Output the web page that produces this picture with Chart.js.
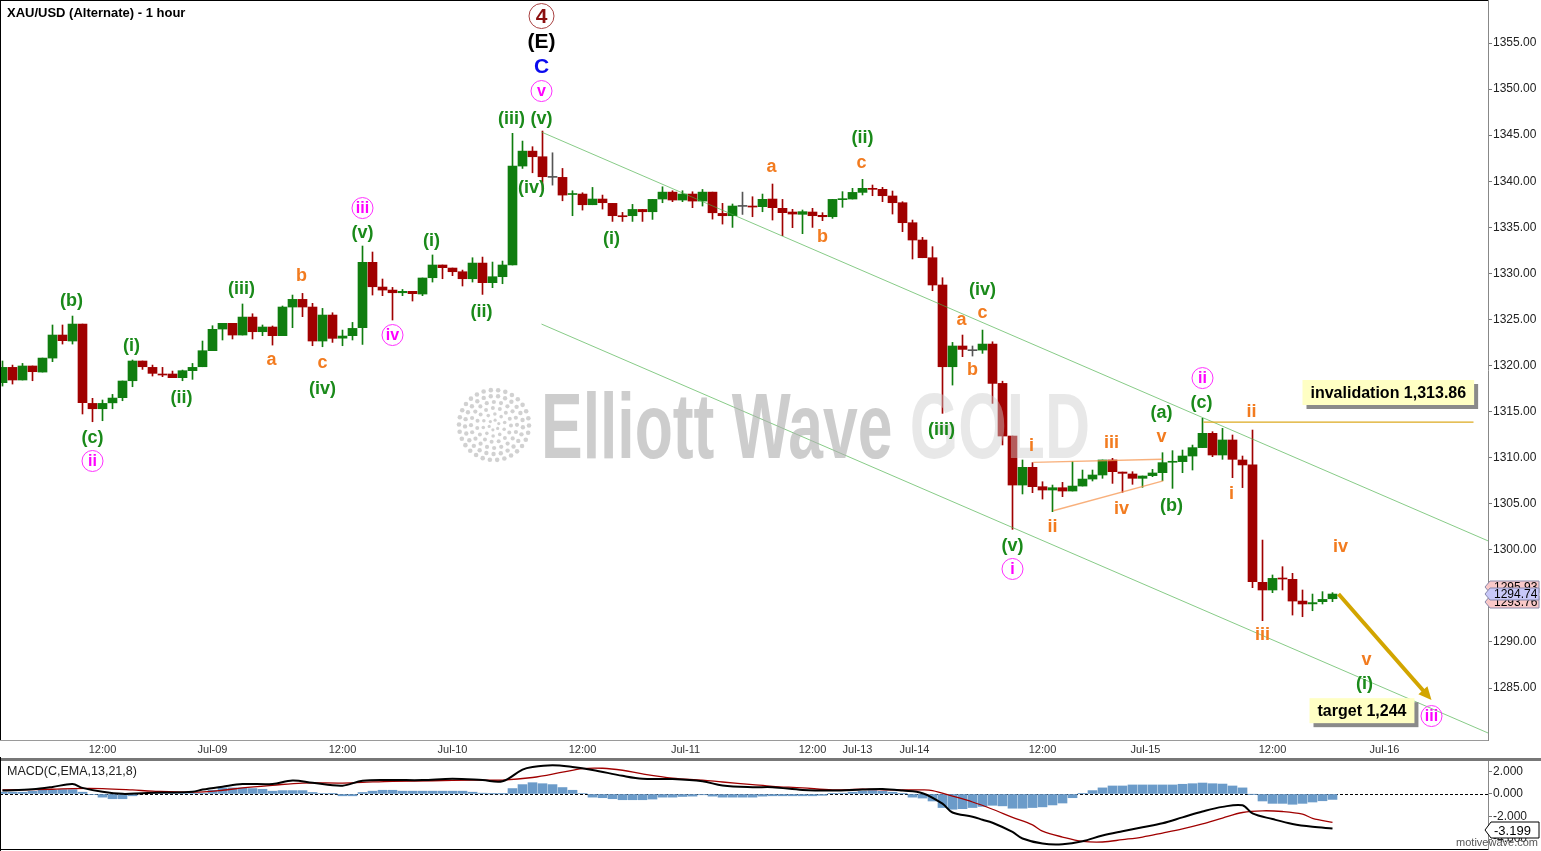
<!DOCTYPE html>
<html><head><meta charset="utf-8">
<script src="https://cdn.jsdelivr.net/npm/chart.js@4.4.1/dist/chart.umd.min.js"></script>
<style>
html,body{margin:0;padding:0;background:#fff;width:1541px;height:851px;overflow:hidden}
canvas{position:absolute;left:0}
#main{top:0}
#macd{top:757px}
</style></head><body>
<canvas id="main" width="1541" height="757"></canvas>
<canvas id="macd" width="1541" height="94"></canvas>
<script>
// ---------- DATA (hourly bars, index 0 = first visible bar) ----------
const opens = [1318.14,1319.80,1318.43,1319.95,1319.29,1320.81,1323.31,1322.66,1324.50,1315.89,
1315.31,1315.95,1316.51,1318.35,1320.49,1319.80,1319.08,1319.08,1318.68,1319.44,
1319.87,1321.61,1323.96,1324.58,1323.31,1325.26,1323.67,1324.18,1323.24,1326.35,
1327.18,1326.35,1322.66,1325.48,1322.97,1323.24,1324.11,1331.20,1328.52,1328.19,
1327.90,1328.05,1327.76,1329.53,1330.91,1330.58,1330.18,1329.42,1331.12,1328.99,
1329.64,1330.91,1341.65,1343.27,1342.66,1340.42,1340.42,1338.56,1338.61,1337.45,
1338.07,1337.60,1336.26,1336.26,1336.94,1336.69,1338.07,1338.82,1337.96,1338.61,
1337.85,1338.82,1336.51,1336.26,1337.27,1337.31,1337.24,1338.07,1337.06,1336.66,
1336.41,1336.66,1336.30,1336.15,1338.00,1338.07,1338.79,1339.23,1339.12,1338.40,
1337.67,1335.50,1333.62,1331.70,1328.74,1319.87,1322.12,1321.61,1321.68,1322.33,
1318.06,1312.35,1307.03,1308.95,1306.85,1306.49,1306.74,1306.38,1306.92,1307.68,
1308.12,1309.75,1308.44,1308.23,1307.76,1308.05,1308.37,1309.50,1309.57,1310.18,
1311.09,1312.64,1310.29,1311.92,1309.75,1309.21,1296.47,1295.64,1296.94,1296.80,
1294.44,1294.13,1294.37,1294.69];
const highs = [1320.49,1320.05,1320.23,1319.95,1320.81,1324.40,1324.40,1325.37,1324.50,1316.44,
1316.26,1316.87,1318.32,1320.60,1320.49,1320.05,1319.80,1319.40,1319.51,1320.23,
1322.66,1324.32,1324.58,1324.58,1326.68,1325.62,1324.40,1324.29,1326.46,1327.65,
1327.83,1326.75,1326.20,1325.73,1323.85,1324.68,1332.97,1332.32,1329.39,1328.48,
1328.26,1328.05,1329.50,1332.00,1330.91,1330.58,1330.36,1331.70,1331.77,1331.23,
1331.34,1345.20,1344.36,1343.75,1345.45,1343.09,1341.39,1338.97,1338.75,1339.33,
1338.50,1337.60,1336.62,1337.49,1336.94,1338.03,1339.40,1338.97,1338.97,1338.86,
1339.11,1338.82,1337.60,1337.53,1338.82,1338.32,1338.61,1339.70,1338.03,1336.95,
1336.88,1337.06,1336.59,1338.03,1338.87,1339.23,1340.21,1339.59,1339.34,1338.94,
1337.78,1335.79,1333.91,1332.90,1329.53,1322.51,1323.31,1322.12,1323.85,1322.58,
1318.30,1312.35,1309.75,1309.46,1307.39,1307.03,1307.32,1309.57,1308.66,1308.66,
1309.75,1309.93,1308.44,1308.48,1308.01,1308.73,1310.54,1310.76,1310.83,1311.37,
1314.27,1312.82,1313.18,1312.46,1310.18,1313.00,1301.06,1297.27,1298.17,1297.45,
1295.64,1295.20,1295.46,1295.35];
const lows = [1317.77,1317.99,1318.43,1318.35,1319.29,1320.42,1322.33,1322.33,1314.74,1313.90,
1314.01,1315.31,1316.18,1317.70,1319.58,1318.86,1318.79,1318.68,1318.35,1318.50,
1319.87,1321.61,1322.77,1322.88,1323.31,1322.88,1323.24,1322.22,1323.24,1324.11,
1325.30,1322.15,1322.04,1322.51,1322.15,1322.77,1322.29,1327.65,1327.58,1324.94,
1327.58,1327.00,1327.58,1329.06,1329.42,1329.75,1328.63,1329.06,1327.72,1328.45,
1328.88,1330.91,1341.39,1340.92,1339.04,1339.58,1337.88,1336.26,1336.87,1337.45,
1336.98,1335.64,1335.64,1335.64,1335.64,1335.86,1337.67,1337.78,1337.78,1337.13,
1337.31,1335.89,1335.35,1334.99,1336.40,1336.15,1336.69,1335.79,1334.09,1334.96,
1334.31,1334.99,1335.72,1335.97,1337.17,1338.07,1338.51,1338.43,1337.78,1336.44,
1334.53,1331.56,1331.70,1328.12,1314.81,1317.88,1320.96,1321.03,1321.32,1315.89,
1311.38,1302.22,1306.06,1306.20,1305.51,1304.14,1305.77,1306.38,1306.92,1307.47,
1307.76,1307.21,1306.24,1307.11,1306.78,1307.94,1307.50,1306.67,1308.37,1308.66,
1311.09,1310.11,1309.82,1307.83,1306.75,1295.89,1292.31,1295.35,1295.64,1292.92,
1292.74,1293.39,1294.12,1294.37];
const closes = [1319.80,1318.43,1319.95,1319.33,1320.81,1323.31,1322.70,1324.50,1315.97,1315.31,
1315.89,1316.47,1318.32,1320.49,1319.87,1319.15,1318.97,1318.68,1319.44,1319.80,
1321.61,1323.93,1324.58,1323.31,1325.26,1323.67,1324.18,1323.24,1326.35,1327.18,
1326.35,1322.66,1325.48,1322.95,1323.20,1324.03,1331.20,1328.55,1328.19,1327.90,
1328.05,1327.80,1329.50,1330.91,1330.62,1330.18,1329.42,1331.12,1328.99,1329.64,
1330.91,1341.65,1343.27,1342.66,1340.49,1340.42,1338.50,1338.62,1337.45,1338.07,
1337.67,1336.26,1336.15,1336.94,1336.69,1338.03,1338.82,1337.96,1338.61,1337.85,
1338.82,1336.58,1336.26,1337.31,1337.27,1337.20,1338.04,1337.13,1336.59,1336.44,
1336.70,1336.26,1336.15,1338.03,1338.07,1338.79,1339.23,1339.12,1338.43,1337.67,
1335.50,1333.62,1331.70,1328.74,1319.87,1322.12,1321.75,1321.61,1322.33,1318.06,
1312.35,1307.03,1308.95,1306.85,1306.49,1306.74,1306.38,1306.92,1307.68,1308.12,
1309.75,1308.48,1308.30,1307.76,1308.01,1308.34,1309.46,1309.57,1310.18,1311.09,
1312.64,1310.29,1311.92,1309.82,1309.21,1296.54,1295.64,1296.90,1296.83,1294.44,
1294.12,1294.27,1294.62,1295.20];

// MACD(13,21,8) histogram, one value per bar
const macdHist = [0.16,0.16,0.16,0.25,0.33,0.33,0.39,0.39,0.16,-0.05,-0.28,-0.42,-0.42,-0.16,
0.04,0.07,0.10,0.10,0.10,0.07,0.07,
0.33,0.54,0.54,0.54,0.48,0.42,0.25,0.30,0.30,0.30,0.13,0.04,0.01,-0.16,-0.16,
0.13,0.25,0.33,0.33,0.25,0.25,0.25,0.25,0.25,0.25,0.25,0.16,0.07,0.01,0.01,
0.48,0.83,1.00,0.91,0.83,0.57,0.33,0.04,-0.28,-0.33,-0.42,-0.51,-0.51,-0.51,-0.45,-0.28,-0.28,-0.22,-0.19,-0.07,-0.19,-0.28,-0.28,-0.28,-0.28,-0.19,
-0.16,-0.16,-0.16,-0.16,-0.16,-0.12,
0.02,0.07,0.16,0.25,0.30,0.25,0.16,0.01,
-0.28,-0.36,-0.62,-1.20,-1.35,-1.30,-1.20,-1.10,-1.00,-1.05,-1.26,-1.26,-1.20,-1.14,-0.97,-0.80,-0.33,0.02,
0.30,0.54,0.71,0.71,0.80,0.80,0.80,0.80,0.80,0.86,0.91,0.97,0.91,0.88,0.71,0.54,
-0.02,-0.62,-0.83,-0.83,-0.91,-0.83,-0.71,-0.60,-0.48];
// MACD line, read at [bar, value]
const macdLine = [[0,0.30],[3,0.42],[5,0.62],[7,0.88],[8,0.54],[10,0.19],[12,0.01],[14,0.07],[16,0.13],[19,0.19],
[20,0.39],[22,0.65],[24,0.88],[27,0.88],[29,1.20],[31,1.00],[34,0.74],[36,1.17],[39,1.23],[42,1.23],[45,1.35],
[48,1.23],[50,1.12],[52,2.16],[53,2.39],[55,2.54],[57,2.39],[59,2.13],[62,1.61],[64,1.35],[67,1.32],[70,1.12],
[72,0.75],[75,0.60],[77,0.60],[80,0.36],[83,0.30],[86,0.39],[88,0.45],[90,0.30],[92,0.07],[94,-0.86],[95,-1.64],
[97,-2.01],[98,-2.28],[99,-2.55],[101,-3.36],[102,-3.94],[104,-4.39],[106,-4.45],[108,-4.19],[110,-3.67],[112,-3.29],
[114,-2.94],[116,-2.59],[118,-2.07],[120,-1.55],[122,-1.14],[124,-1.00],[125,-1.72],[127,-2.22],[129,-2.65],[131,-2.90],[133,-3.05]];
// Signal line, read at [bar, value]
const signalLine = [[0,0.36],[5,0.42],[7,0.48],[10,0.48],[13,0.36],[15,0.25],[19,0.16],[22,0.33],[24,0.54],[27,0.77],
[30,0.97],[34,0.97],[36,1.03],[39,1.12],[43,1.17],[47,1.23],[50,1.23],[53,1.46],[56,1.93],[58,2.25],[60,2.28],
[62,2.10],[64,1.78],[67,1.41],[70,1.23],[72,1.06],[75,0.83],[77,0.68],[80,0.54],[83,0.36],[86,0.42],[89,0.36],
[92,0.36],[93,0.30],[95,-0.19],[97,-0.71],[99,-1.35],[101,-2.07],[103,-2.74],[104,-3.29],[106,-3.81],[108,-4.19],
[110,-4.25],[112,-4.04],[114,-3.81],[116,-3.46],[118,-3.09],[120,-2.65],[122,-2.13],[124,-1.64],[126,-1.49],
[128,-1.55],[130,-1.78],[131,-2.16],[133,-2.51]];

// axis tick labels
const xTickLabels = ['12:00','Jul-09','12:00','Jul-10','12:00','Jul-11','12:00','Jul-13','Jul-14','12:00','Jul-15','12:00','Jul-16'];
const xTickBars   = [10,21,34,45,58,68.3,81,85.5,91.2,104,114.3,127,138.2];
const yTicks = [1285,1290,1295,1300,1305,1310,1315,1320,1325,1330,1335,1340,1345,1350,1355];
const macdTicks = [2,0,-2,-4];

// Elliott wave annotations: [text, bar, price, kind]
const waveLabels = [
 ['(v)',-1.4,1315.4,'g'],['(b)',6.9,1327.0,'g'],['(c)',9.0,1312.13,'g'],['(i)',12.9,1322.12,'g'],['(ii)',17.9,1316.47,'g'],
 ['(iii)',23.9,1328.3,'g'],['(iv)',32.0,1317.45,'g'],['(v)',36.0,1334.38,'g'],['(i)',42.9,1333.51,'g'],['(ii)',47.9,1325.81,'g'],
 ['(iii)',50.9,1346.75,'g'],['(v)',53.9,1346.75,'g'],['(iv)',52.9,1339.27,'g'],['(i)',60.9,1333.73,'g'],['(ii)',86.0,1344.69,'g'],
 ['(iv)',98.0,1328.2,'g'],['(iii)',93.9,1313.0,'g'],['(v)',101.0,1300.41,'g'],['(a)',115.9,1314.85,'g'],['(c)',119.9,1315.93,'g'],
 ['(b)',116.9,1304.75,'g'],['(i)',136.2,1285.43,'g'],
 ['b',29.9,1329.71,'o'],['a',26.9,1320.6,'o'],['c',32.0,1320.27,'o'],['a',76.9,1341.54,'o'],['c',85.9,1341.98,'o'],['b',82.0,1333.95,'o'],
 ['a',95.9,1324.94,'o'],['c',98.0,1325.7,'o'],['b',97.0,1319.51,'o'],['i',102.9,1311.26,'o'],['ii',105.0,1302.47,'o'],
 ['iii',110.9,1311.59,'o'],['iv',111.9,1304.43,'o'],['v',115.9,1312.24,'o'],['ii',124.9,1314.95,'o'],['i',122.9,1306.05,'o'],
 ['iii',126.0,1290.75,'o'],['iv',133.8,1300.3,'o'],['v',136.4,1288.04,'o'],
 ['ii',9.0,1309.64,'m'],['iii',36.0,1337.09,'m'],['iv',39.0,1323.31,'m'],['v',53.9,1349.79,'m'],['i',101.0,1297.92,'m'],
 ['ii',120.0,1318.64,'m'],['iii',142.9,1281.96,'m'],
 ['4',53.9,1357.93,'d'],['(E)',53.9,1355.11,'k'],['C',53.9,1352.4,'b']
];
// channel lines [bar1, price1, bar2, price2]
const channelLines = [[53.9,1345.34,148.6,1300.95],[53.9,1324.5,148.6,1280.1]];
const triangleLines = [[103.07,1309.5,115.97,1309.83],[105.07,1304.24,116.07,1307.47]];
const invalidation = {price:1313.86, from:120.1, to:147.1, text:'invalidation 1,313.86', boxBar:130.0, boxPrice:1318.43};
const target = {text:'target 1,244', boxBar:130.7, boxPrice:1283.9, arrow:[133.6,1295.2,142.9,1283.7]};
const priceTags = [['1295.93',1296.0,'#f9c8c8'],['1293.76',1294.39,'#f9c8c8'],['1294.74',1295.2,'#c8c8f8']];

// ---------- STYLE ----------
const UP='#0f7d0f', DOWN='#a00000', FLAT='#555555';
const FONT='"Liberation Sans", Arial, sans-serif';
const XMIN=-0.25, XMAX=148.55;
const bars = closes.map((_,i)=>i);
const colorOf = i => closes[i]>opens[i]?UP:(closes[i]<opens[i]?DOWN:FLAT);

function line(ctx,x1,y1,x2,y2,color,w){ctx.save();ctx.strokeStyle=color;ctx.lineWidth=w;ctx.beginPath();ctx.moveTo(x1,y1);ctx.lineTo(x2,y2);ctx.stroke();ctx.restore();}
const fitY = s=>{s.width=53;s.paddingTop=0;s.paddingBottom=0;};

const mainDecor = {
  id:'mainDecor',
  afterDatasetsDraw(chart){
    const ctx=chart.ctx, xs=chart.scales.x, ys=chart.scales.y, ca=chart.chartArea;
    const X=v=>xs.getPixelForValue(v), Y=v=>ys.getPixelForValue(v);
    ctx.save();
    ctx.beginPath();ctx.rect(ca.left,ca.top,ca.right-ca.left,ca.bottom-ca.top);ctx.clip();
    channelLines.forEach(l=>line(ctx,X(l[0]),Y(l[1]),X(l[2]),Y(l[3]),'rgba(70,175,70,0.65)',1));
    triangleLines.forEach(l=>line(ctx,X(l[0]),Y(l[1]),X(l[2]),Y(l[3]),'rgba(245,150,80,0.75)',1.3));
    // watermark
    ctx.save();
    ctx.font='bold 92px '+FONT;
    const t1='Elliott Wave ', t2='GOLD';
    const w1=ctx.measureText(t1).width, w2=ctx.measureText(t2).width;
    const sc=549/(w1+w2);
    ctx.translate(541,458);ctx.scale(sc,1);
    ctx.textBaseline='alphabetic';ctx.textAlign='left';
    ctx.fillStyle='rgba(175,175,175,0.62)';ctx.fillText(t1,0,0);
    ctx.fillStyle='rgba(205,205,205,0.45)';ctx.fillText(t2,w1,0);
    ctx.restore();
    // spiral logo
    ctx.save();
    ctx.fillStyle='rgba(190,190,190,0.7)';
    [[5,6,1.6],[11,10,1.8],[17,15,2],[23,20,2.1],[29,25,2.2],[35,30,2.3]].forEach(([r,n,d])=>{
      for(let k=0;k<n;k++){const a=k/n*Math.PI*2+r*0.15;ctx.beginPath();ctx.arc(494+r*Math.cos(a),425+r*Math.sin(a),d,0,7);ctx.fill();}
    });
    ctx.restore();
    line(ctx,X(invalidation.from),Y(invalidation.price),X(invalidation.to),Y(invalidation.price),'#dcaa20',1.3);
    // arrow
    const a=target.arrow; const ax1=X(a[0]),ay1=Y(a[1]),ax2=X(a[2]),ay2=Y(a[3]);
    const ang=Math.atan2(ay2-ay1,ax2-ax1);
    ctx.strokeStyle='#d2a500';ctx.fillStyle='#d2a500';ctx.lineWidth=4;ctx.lineCap='butt';
    ctx.beginPath();ctx.moveTo(ax1,ay1);ctx.lineTo(ax2-9*Math.cos(ang),ay2-9*Math.sin(ang));ctx.stroke();
    ctx.beginPath();ctx.moveTo(ax2,ay2);
    ctx.lineTo(ax2-13*Math.cos(ang)+6*Math.sin(ang),ay2-13*Math.sin(ang)-6*Math.cos(ang));
    ctx.lineTo(ax2-13*Math.cos(ang)-6*Math.sin(ang),ay2-13*Math.sin(ang)+6*Math.cos(ang));
    ctx.closePath();ctx.fill();
    // wave labels
    ctx.textAlign='center';ctx.textBaseline='middle';
    waveLabels.forEach(([t,b,p,k])=>{
      const x=X(b), y=Y(p);
      if(k==='g'){ctx.font='bold 18px '+FONT;ctx.fillStyle='#1a8a1a';ctx.fillText(t,x,y);}
      else if(k==='o'){ctx.font='bold 18px '+FONT;ctx.fillStyle='#f27b1f';ctx.fillText(t,x,y);}
      else if(k==='m'){ctx.strokeStyle='#ff30ff';ctx.lineWidth=1;ctx.beginPath();ctx.arc(x,y,10.5,0,7);ctx.stroke();
        ctx.font='bold 16px '+FONT;ctx.fillStyle='#ff00ff';ctx.fillText(t,x,y+1);}
      else if(k==='d'){ctx.strokeStyle='#a84040';ctx.lineWidth=1;ctx.beginPath();ctx.arc(x,y,12.5,0,7);ctx.stroke();
        ctx.font='bold 21px '+FONT;ctx.fillStyle='#8b1010';ctx.fillText(t,x,y+1);}
      else if(k==='k'){ctx.font='bold 21px '+FONT;ctx.fillStyle='#000';ctx.fillText(t,x,y);}
      else if(k==='b'){ctx.font='bold 21px '+FONT;ctx.fillStyle='#0a0aee';ctx.fillText(t,x,y);}
    });
    const box=(txt,bx,by)=>{
      ctx.font='bold 16px '+FONT;
      const w=ctx.measureText(txt).width+16, h=25, x=X(bx), y=Y(by);
      ctx.fillStyle='#8a8a8a';ctx.fillRect(x+4,y+4,w,h);
      ctx.fillStyle='#ffffc4';ctx.fillRect(x,y,w,h);
      ctx.fillStyle='#000';ctx.textAlign='left';ctx.textBaseline='middle';ctx.fillText(txt,x+8,y+h/2+1);
    };
    box(invalidation.text,invalidation.boxBar,invalidation.boxPrice);
    box(target.text,target.boxBar,target.boxPrice);
    ctx.restore();
  },
  afterDraw(chart){
    const ctx=chart.ctx, ca=chart.chartArea, ys=chart.scales.y;
    ctx.save();
    line(ctx,0,0.5,ca.right,0.5,'#000',1);
    line(ctx,0.5,0,0.5,ca.bottom,'#000',1);
    line(ctx,0,ca.bottom+0.5,ca.right,ca.bottom+0.5,'#9a9a9a',1);
    ctx.font='bold 13px '+FONT;ctx.fillStyle='#000';ctx.textBaseline='middle';ctx.textAlign='left';
    ctx.fillText('XAU/USD (Alternate) - 1 hour',7,13);
    priceTags.forEach(([t,p,c])=>{
      const y=Math.round(ys.getPixelForValue(p)), x=ca.right-3;
      ctx.beginPath();ctx.moveTo(x,y);ctx.lineTo(x+5,y-6);ctx.lineTo(1539,y-6);ctx.lineTo(1539,y+6);ctx.lineTo(x+5,y+6);ctx.closePath();
      ctx.fillStyle=c;ctx.fill();ctx.strokeStyle='#8888aa';ctx.lineWidth=1;ctx.stroke();
      ctx.font='12px '+FONT;ctx.fillStyle='#000';ctx.fillText(t,x+9,y+1);
    });
    ctx.restore();
  }
};

new Chart(document.getElementById('main'),{
  type:'bar',
  data:{datasets:[
    {label:'wick',data:bars.map(i=>({x:i,y:[lows[i],highs[i]]})),backgroundColor:bars.map(colorOf),barThickness:1,grouped:false,order:2},
    {label:'body',data:bars.map(i=>({x:i,y:[opens[i],closes[i]]})),backgroundColor:bars.map(colorOf),barThickness:9,minBarLength:1,grouped:false,order:1}
  ]},
  options:{
    responsive:false,animation:false,
    layout:{padding:0},
    plugins:{legend:{display:false},tooltip:{enabled:false}},
    scales:{
      x:{type:'linear',min:XMIN,max:XMAX,offset:false,grid:{display:false,drawTicks:false},border:{display:false},
        afterBuildTicks:s=>{s.ticks=xTickBars.map(v=>({value:v}));},
        afterFit:s=>{s.height=17;s.paddingLeft=0;s.paddingRight=0;},
        ticks:{autoSkip:false,maxRotation:0,padding:3,color:'#333',font:{family:FONT,size:11},
          callback:(v)=>{const k=xTickBars.indexOf(v);return k>=0?xTickLabels[k]:'';}}},
      y:{position:'right',min:1279.36,max:1359.67,
        grid:{display:true,drawOnChartArea:false,drawTicks:true,tickLength:4,color:'#777'},
        border:{display:true,color:'#888'},
        afterBuildTicks:s=>{s.ticks=yTicks.map(v=>({value:v}));},
        afterFit:fitY,
        ticks:{padding:1,color:'#222',font:{family:FONT,size:12},callback:v=>v.toFixed(2)}}
    }
  },
  plugins:[mainDecor]
});

const macdDecor = {
  id:'macdDecor',
  beforeDatasetsDraw(chart){
    const ctx=chart.ctx, ca=chart.chartArea, y0=chart.scales.y.getPixelForValue(0);
    ctx.save();ctx.setLineDash([3,2]);
    line(ctx,ca.left,Math.round(y0)+0.5,ca.right,Math.round(y0)+0.5,'#000',1);
    ctx.restore();
  },
  afterDraw(chart){
    const ctx=chart.ctx, ca=chart.chartArea, ys=chart.scales.y;
    ctx.save();
    ctx.fillStyle='#777';ctx.fillRect(0,1,1541,3);
    line(ctx,0.5,0,0.5,94,'#000',1);
    line(ctx,0,92.5,ca.right,92.5,'#000',1);
    ctx.font='12.5px '+FONT;ctx.fillStyle='#222';ctx.textBaseline='middle';ctx.textAlign='left';
    ctx.fillText('MACD(C,EMA,13,21,8)',7,15);
    const lv=-3.199, y=Math.round(ys.getPixelForValue(lv)), x=ca.right-3;
    ctx.beginPath();ctx.moveTo(x,y);ctx.lineTo(x+6,y-8);ctx.lineTo(1539,y-8);ctx.lineTo(1539,y+8);ctx.lineTo(x+6,y+8);ctx.closePath();
    ctx.fillStyle='#fff';ctx.fill();ctx.strokeStyle='#000';ctx.lineWidth=1;ctx.stroke();
    ctx.font='13px '+FONT;ctx.fillStyle='#000';ctx.fillText(lv.toFixed(3),x+9,y+1);
    ctx.font='11px '+FONT;ctx.fillStyle='#555';ctx.textAlign='right';ctx.fillText('motivewave.com',1538,86);
    ctx.restore();
  }
};

new Chart(document.getElementById('macd'),{
  type:'bar',
  data:{datasets:[
    {type:'line',data:macdLine.map(([x,y])=>({x,y})),borderColor:'#000',borderWidth:2,pointRadius:0,tension:0.35,order:0},
    {type:'line',data:signalLine.map(([x,y])=>({x,y})),borderColor:'#a00000',borderWidth:1.3,pointRadius:0,tension:0.35,order:1},
    {type:'bar',data:macdHist.map((v,i)=>({x:i,y:v})),backgroundColor:'#6b9bc9',barThickness:9,order:2}
  ]},
  options:{
    responsive:false,animation:false,
    layout:{padding:{top:4,bottom:2,left:0,right:0}},
    plugins:{legend:{display:false},tooltip:{enabled:false}},
    scales:{
      x:{type:'linear',min:XMIN,max:XMAX,offset:false,display:false},
      y:{position:'right',min:-4.87,max:2.92,
        grid:{display:true,drawOnChartArea:false,tickLength:4,color:'#777'},
        border:{display:true,color:'#888'},
        afterBuildTicks:s=>{s.ticks=macdTicks.map(v=>({value:v}));},
        afterFit:fitY,
        ticks:{padding:1,color:'#222',font:{family:FONT,size:12},callback:v=>v.toFixed(3)}}
    }
  },
  plugins:[macdDecor]
});
</script>
</body></html>
